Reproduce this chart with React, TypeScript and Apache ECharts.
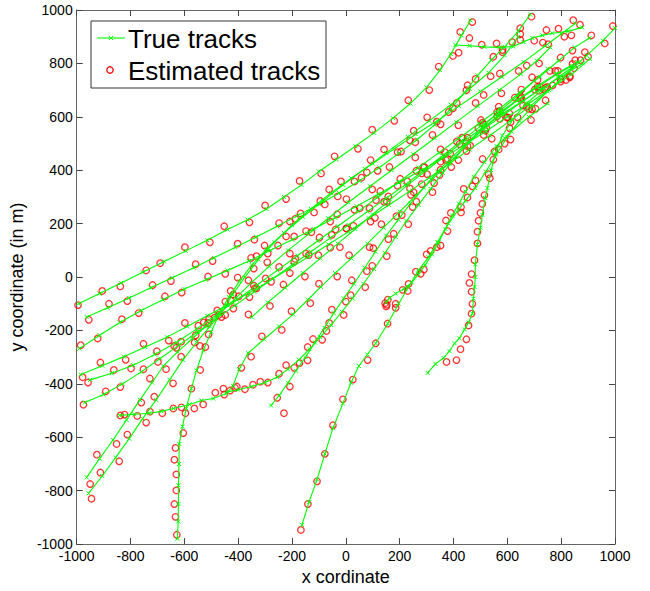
import React, { useEffect, useRef } from 'react';
import * as echarts from 'echarts';

// ---- axis ticks ----
const X_MIN = -1000, X_MAX = 1000, Y_MIN = -1000, Y_MAX = 1000, STEP = 200;

// ---- true tracks (x, y in m) ----
const T1_TRUE = [[-993,-100],[-915,-62],[-835,-22],[-755,18],[-675,58],[-595,98],[-515,138],[-440,178],[-365,215],[-295,255],[-230,300],[-165,345],[-100,395],[-35,440],[35,490],[105,540],[175,595],[240,650],[300,710],[350,775],[390,835],[430,905],[463,961]];
const T1_EST = [[-995,-105],[-905,-52],[-838,-35],[-742,25],[-690,52],[-598,112],[-505,130],[-452,190],[-358,205],[-300,268],[-222,292],[-172,360],[-92,388],[-42,452],[45,480],[98,552],[180,585],[232,662],[310,700],[345,788],[398,828],[425,918],[470,955]];

const T2_TRUE = [[-963,-150],[-885,-115],[-805,-78],[-725,-40],[-645,-3],[-565,35],[-490,72],[-410,112],[-333,150],[-255,190],[-180,230],[-100,272],[-25,315],[50,360],[125,410],[195,462],[265,515],[330,570],[390,630],[440,690],[490,755],[540,812],[590,862],[640,920],[685,983]];
const T2_EST = [[-955,-160],[-880,-100],[-812,-90],[-718,-30],[-650,-15],[-558,48],[-495,60],[-402,125],[-340,140],[-248,202],[-188,218],[-95,285],[-30,302],[58,372],[118,398],[205,470],[258,505],[338,582],[382,618],[448,700],[482,742],[548,825],[582,850],[648,932],[690,975]];

const T3_TRUE = [[-990,-268],[-915,-218],[-840,-170],[-760,-125],[-680,-85],[-600,-45],[-520,-10],[-440,25],[-360,60],[-280,100],[-200,140],[-120,180],[-40,222],[40,265],[120,310],[200,355],[280,400],[360,445],[440,495],[520,545],[600,600],[680,650],[760,705],[840,760],[907,817]];
const T3_EST = [[-985,-255],[-922,-230],[-832,-158],[-770,-135],[-672,-72],[-610,-58],[-512,2],[-448,12],[-352,72],[-290,88],[-192,152],[-128,168],[-32,235],[32,252],[128,322],[192,342],[288,412],[352,432],[448,508],[512,532],[608,612],[672,638],[768,718],[832,748],[900,825]];

const T4_TRUE = [[-985,-365],[-905,-332],[-825,-298],[-745,-262],[-665,-225],[-590,-185],[-515,-145],[-440,-105],[-365,-62],[-290,-18],[-215,28],[-140,75],[-65,122],[10,170],[85,220],[160,270],[235,320],[310,372],[385,425],[460,478],[535,530],[610,585],[685,640],[755,700],[825,765],[895,830],[955,885],[1000,932]];
const T4_EST = [[-978,-375],[-912,-320],[-818,-310],[-752,-250],[-658,-238],[-598,-172],[-508,-158],[-448,-92],[-358,-75],[-298,-5],[-208,15],[-148,88],[-58,110],[2,182],[92,208],[152,282],[242,308],[302,385],[392,412],[452,490],[542,518],[602,598],[692,628],[748,712],[832,752],[888,842],[962,875],[992,940]];

const T5_TRUE = [[-970,-470],[-900,-440],[-830,-400],[-760,-355],[-690,-305],[-620,-255],[-550,-205],[-480,-155],[-410,-105],[-340,-55],[-270,-5],[-200,45],[-130,95],[-60,145],[10,195],[80,245],[150,295],[220,345],[290,400],[360,455],[430,510],[500,565],[570,615],[640,665],[710,715],[780,760],[860,805]];
const T5_EST = [[-975,-478],[-892,-428],[-838,-412],[-752,-345],[-698,-318],[-612,-242],[-558,-218],[-472,-142],[-418,-118],[-332,-42],[-278,-18],[-192,58],[-138,82],[-52,158],[2,182],[88,258],[142,282],[228,358],[282,388],[368,468],[422,498],[508,578],[562,602],[648,678],[702,702],[788,772],[852,812]];

const T6_TRUE = [[-963,-750],[-915,-680],[-865,-610],[-815,-535],[-765,-460],[-720,-395],[-678,-333],[-625,-280],[-570,-230],[-520,-185],[-470,-137],[-410,-80],[-350,-20],[-285,40],[-215,100],[-140,160],[-65,220],[10,280],[90,340],[170,400],[250,460],[330,520],[410,580],[490,640],[570,700],[650,760],[710,810],[760,860]];
const T6_EST = [[-950,-775],[-925,-665],[-852,-625],[-822,-515],[-760,-470],[-728,-380],[-668,-345],[-630,-265],[-562,-245],[-528,-170],[-462,-150],[-418,-65],[-342,-32],[-292,55],[-208,88],[-148,172],[-58,208],[2,292],[98,328],[162,412],[258,448],[322,532],[418,568],[482,652],[578,688],[642,772],[718,800],[752,872]];

const T7_TRUE = [[-956,-810],[-905,-745],[-855,-675],[-805,-605],[-755,-530],[-705,-460],[-655,-385],[-605,-310],[-555,-245],[-505,-185],[-460,-130],[-420,-65],[-375,0],[-325,65],[-265,130],[-200,195],[-130,255],[-55,315],[20,370],[100,425],[180,480],[260,535],[340,585],[420,640],[500,695],[580,750],[660,805],[740,865],[800,910],[852,950]];
const T7_EST = [[-945,-830],[-912,-732],[-842,-690],[-812,-590],[-742,-545],[-712,-448],[-642,-398],[-612,-298],[-542,-258],[-512,-172],[-448,-142],[-428,-52],[-362,-12],[-332,78],[-252,118],[-208,208],[-118,242],[-62,328],[32,358],[92,438],[192,468],[252,548],[352,572],[412,652],[512,682],[572,762],[672,792],[732,878],[812,900],[845,962]];

const T8_TRUE = [[-626,-980],[-623,-915],[-622,-850],[-622,-780],[-620,-700],[-619,-625],[-607,-560],[-593,-492],[-574,-418],[-555,-350],[-530,-275],[-500,-205],[-470,-137],[-435,-75],[-395,-15],[-350,45],[-295,105],[-230,165],[-160,225],[-85,285],[-10,345],[70,405],[150,465],[230,525],[310,585],[390,645],[460,705],[530,765],[590,830],[640,900]];
const T8_EST = [[-628,-965],[-633,-898],[-637,-850],[-630,-799],[-630,-739],[-637,-684],[-633,-640],[-604,-584],[-596,-510],[-574,-418],[-541,-348],[-522,-262],[-510,-215],[-478,-125],[-428,-88],[-402,-2],[-342,32],[-302,118],[-222,152],[-168,238],[-78,272],[-18,358],[78,392],[142,478],[238,512],[302,598],[398,632],[452,718],[538,752],[582,842],[648,888]];

const T9_TRUE = [[-841,-518],[-785,-514],[-730,-510],[-685,-503],[-641,-492],[-581,-477],[-537,-462],[-493,-455],[-444,-436],[-419,-407],[-396,-344],[-363,-285],[-304,-233],[-248,-185],[-196,-140],[-141,-85],[-93,-37],[-40,15],[20,70],[80,125],[140,185],[200,245],[260,305],[320,365],[380,425],[440,485],[500,545],[565,605],[635,660],[710,710],[785,760],[840,790]];
const T9_EST = [[-838,-518],[-775,-520],[-728,-504],[-682,-510],[-641,-492],[-611,-488],[-563,-492],[-530,-477],[-485,-433],[-452,-440],[-412,-415],[-388,-340],[-352,-298],[-312,-222],[-238,-198],[-202,-128],[-132,-98],[-100,-25],[-32,2],[12,82],[88,112],[132,198],[208,232],[252,318],[328,352],[372,438],[448,472],[492,558],[572,592],[628,672],[718,698],[778,772],[848,782]];

const T10_TRUE = [[-440,-430],[-400,-422],[-350,-410],[-300,-395],[-255,-375],[-215,-345],[-175,-310],[-135,-270],[-95,-225],[-55,-180],[-15,-130],[25,-80],[65,-25],[105,30],[145,90],[185,150],[225,210],[270,270],[315,330],[360,390],[410,450],[460,510],[515,570],[575,625],[640,680],[700,735],[750,780]];
const T10_EST = [[-455,-418],[-430,-425],[-405,-410],[-375,-420],[-345,-403],[-318,-392],[-290,-395],[-248,-362],[-222,-330],[-172,-322],[-142,-262],[-88,-235],[-62,-172],[-8,-142],[18,-68],[72,-38],[98,42],[152,78],[178,162],[232,198],[262,282],[322,318],[352,402],[418,438],[452,522],[522,558],[568,638],[648,668],[692,748],[758,772]];

const T11_TRUE = [[-278,-481],[-248,-444],[-215,-396],[-185,-351],[-150,-300],[-115,-245],[-80,-190],[-45,-135],[-8,-80],[30,-25],[70,35],[110,95],[150,155],[195,215],[240,275],[290,335],[340,395],[395,450],[455,505],[520,560],[590,610],[660,660],[730,710]];
const T11_EST = [[-230,-510],[-255,-452],[-208,-410],[-192,-340],[-142,-312],[-122,-232],[-72,-202],[-52,-122],[0,-92],[22,-12],[78,22],[102,108],[158,142],[188,228],[248,262],[282,348],[348,382],[388,462],[462,492],[512,572],[598,598],[652,672],[738,702]];

const T12_TRUE = [[-163,-928],[-137,-843],[-107,-758],[-78,-662],[-48,-566],[-11,-473],[19,-396],[48,-333],[80,-290],[111,-248],[156,-174],[196,-100],[233,-37],[270,26],[307,74],[340,130],[381,200],[418,251],[444,285],[481,333],[520,395],[560,460],[600,525],[645,585],[695,640],[750,695],[810,750]];
const T12_EST = [[-167,-947],[-141,-850],[-107,-765],[-78,-662],[-48,-555],[-11,-458],[26,-384],[81,-311],[111,-248],[155,-174],[185,-115],[230,-52],[278,12],[300,85],[352,118],[372,212],[428,242],[452,298],[470,340],[530,385],[552,470],[612,515],[638,598],[705,630],[742,708],[818,738]];

const T13_TRUE = [[304,-359],[333,-325],[363,-303],[385,-277],[404,-248],[422,-229],[441,-196],[456,-170],[470,-137],[474,-81],[478,-37],[481,0],[481,48],[489,122],[500,185],[507,233],[518,296],[526,333],[540,400],[555,459],[581,529],[620,590],[670,650],[730,700],[790,750],[850,790]];
const T13_EST = [[374,-318],[411,-311],[426,-270],[448,-233],[456,-181],[467,-137],[470,-100],[467,-55],[459,-22],[467,11],[478,63],[489,126],[489,170],[493,211],[500,240],[507,274],[515,307],[535,370],[548,440],[590,500],[612,580],[680,630],[722,712],[798,740],[842,798]];

const T14_TRUE = [[150,-95],[162,-78],[185,-62],[215,-45],[245,-20],[270,10],[295,45],[320,85],[345,130],[370,180],[395,230],[420,275],[445,320],[475,375],[515,430],[560,490],[615,545],[680,600],[750,650]];
const T14_EST = [[146,-98],[150,-110],[152,-104],[156,-85],[185,-100],[211,-48],[233,-26],[260,20],[290,28],[315,98],[338,112],[378,172],[390,240],[428,262],[438,330],[482,362],[508,442],[568,478],[608,558],[688,588],[742,662]];

const T15_TRUE = [[407,869],[460,866],[515,862],[570,860],[622,863],[660,880],[693,895],[730,905],[767,913],[826,920],[878,935]];
const T15_EST = [[419,840],[459,895],[505,870],[560,875],[618,880],[648,910],[700,885],[745,925],[790,930],[838,905],[870,945]];

const T16_TRUE = [[-950,-385],[-870,-360],[-790,-330],[-710,-290],[-630,-245],[-555,-195],[-480,-140],[-405,-85],[-330,-30],[-255,25],[-180,80],[-105,135],[-30,190],[45,245],[120,300],[195,355],[270,410],[345,465],[420,520],[495,575],[570,630],[645,690],[720,750],[790,810],[850,860],[905,895]];
const T16_EST = [[-958,-395],[-862,-348],[-798,-342],[-702,-278],[-638,-258],[-548,-182],[-488,-152],[-398,-72],[-338,-42],[-248,38],[-188,68],[-98,148],[-38,178],[52,258],[112,288],[202,368],[262,398],[352,478],[412,508],[502,588],[562,618],[652,702],[712,738],[798,822],[842,848],[912,905]];

const T17_TRUE = [[-350,-150],[-290,-95],[-225,-40],[-160,15],[-95,70],[-30,125],[35,180],[100,235],[165,290],[230,345],[300,400],[370,455],[440,510],[510,560],[580,610],[650,655],[720,700],[790,745],[880,800]];
const T17_EST = [[-362,-140],[-282,-108],[-232,-28],[-152,2],[-102,82],[-22,112],[28,192],[108,222],[158,302],[238,332],[292,412],[378,442],[432,522],[518,548],[572,622],[658,642],[712,712],[798,732],[872,812]];

const TRUE_TRACKS = [T1_TRUE, T2_TRUE, T3_TRUE, T4_TRUE, T5_TRUE, T6_TRUE, T7_TRUE, T8_TRUE, T9_TRUE, T10_TRUE, T11_TRUE, T12_TRUE, T13_TRUE, T14_TRUE, T15_TRUE, T16_TRUE, T17_TRUE];
const EST_TRACKS = [T1_EST, T2_EST, T3_EST, T4_EST, T5_EST, T6_EST, T7_EST, T8_EST, T9_EST, T10_EST, T11_EST, T12_EST, T13_EST, T14_EST, T15_EST, T16_EST, T17_EST];

const GREEN = '#00ff00';
const RED = '#ff0000';
const X_MARK = 'path://M0,0L10,10M10,0L0,10';
const FONT = '"Liberation Sans", Arial, sans-serif';

export default function App() {
  const ref = useRef<HTMLDivElement>(null);
  useEffect(() => {
    document.body.style.margin = '0';
    const chart = echarts.init(ref.current as HTMLDivElement, null, { renderer: 'svg' });
    const axisLine = { show: true, onZero: false, lineStyle: { color: '#666', width: 1 } };
    const axisTick = { show: true, inside: true, length: 6, lineStyle: { color: '#444', width: 1 } };
    const fmt = (v: number) => String(v);
    const labelStyle = { fontSize: 14, color: '#000', fontFamily: FONT, formatter: fmt };
    const nameStyle = { fontSize: 18, color: '#000', fontFamily: FONT };

    const series: any[] = [];
    EST_TRACKS.forEach((d, i) => {
      series.push({
        type: 'scatter', name: 'est' + i, data: d, symbol: 'circle', symbolSize: 6.5,
        itemStyle: { color: 'rgba(0,0,0,0)', borderColor: RED, borderWidth: 1.3 }, z: 2, silent: true,
      });
    });
    TRUE_TRACKS.forEach((d, i) => {
      series.push({
        type: 'line', name: 'true' + i, data: d, symbol: X_MARK, symbolSize: 4, showSymbol: true,
        lineStyle: { color: GREEN, width: 1.1 },
        itemStyle: { color: 'rgba(0,0,0,0)', borderColor: GREEN, borderWidth: 1 }, z: 3, silent: true,
      });
    });

    chart.setOption({
      animation: false,
      backgroundColor: '#ffffff',
      grid: { left: 75, right: 35, top: 10, bottom: 41 },
      xAxis: [
        { type: 'value', min: X_MIN, max: X_MAX, interval: STEP, position: 'bottom', name: 'x cordinate', nameLocation: 'middle', nameGap: 20, nameTextStyle: nameStyle, axisLine, axisTick, axisLabel: { ...labelStyle, margin: 5 }, splitLine: { show: false } },
        { type: 'value', min: X_MIN, max: X_MAX, interval: STEP, position: 'top', axisLine, axisTick, axisLabel: { show: false }, splitLine: { show: false } },
      ],
      yAxis: [
        { type: 'value', min: Y_MIN, max: Y_MAX, interval: STEP, position: 'left', name: 'y coordinate (in m)', nameLocation: 'middle', nameGap: 40, nameTextStyle: nameStyle, axisLine, axisTick, axisLabel: { ...labelStyle, margin: 4 }, splitLine: { show: false } },
        { type: 'value', min: Y_MIN, max: Y_MAX, interval: STEP, position: 'right', axisLine, axisTick, axisLabel: { show: false }, splitLine: { show: false } },
      ],
      graphic: [
        { type: 'rect', z: 100, shape: { x: 91, y: 21, width: 235, height: 67 }, style: { fill: '#ffffff', stroke: '#333', lineWidth: 1 } },
        { type: 'line', z: 101, shape: { x1: 97, y1: 38, x2: 125, y2: 38 }, style: { stroke: GREEN, lineWidth: 1.1 } },
        { type: 'line', z: 101, shape: { x1: 109, y1: 36, x2: 113, y2: 40 }, style: { stroke: GREEN, lineWidth: 1 } },
        { type: 'line', z: 101, shape: { x1: 113, y1: 36, x2: 109, y2: 40 }, style: { stroke: GREEN, lineWidth: 1 } },
        { type: 'text', z: 101, x: 128, y: 39, style: { text: 'True tracks', fontSize: 26, fontFamily: FONT, fill: '#000', verticalAlign: 'middle' } },
        { type: 'circle', z: 101, shape: { cx: 110, cy: 70, r: 3.2 }, style: { fill: 'none', stroke: RED, lineWidth: 1.3 } },
        { type: 'text', z: 101, x: 128, y: 71, style: { text: 'Estimated tracks', fontSize: 26, fontFamily: FONT, fill: '#000', verticalAlign: 'middle' } },
      ],
      series,
    });
    return () => chart.dispose();
  }, []);
  return <div ref={ref} style={{ width: 650, height: 591 }} />;
}
